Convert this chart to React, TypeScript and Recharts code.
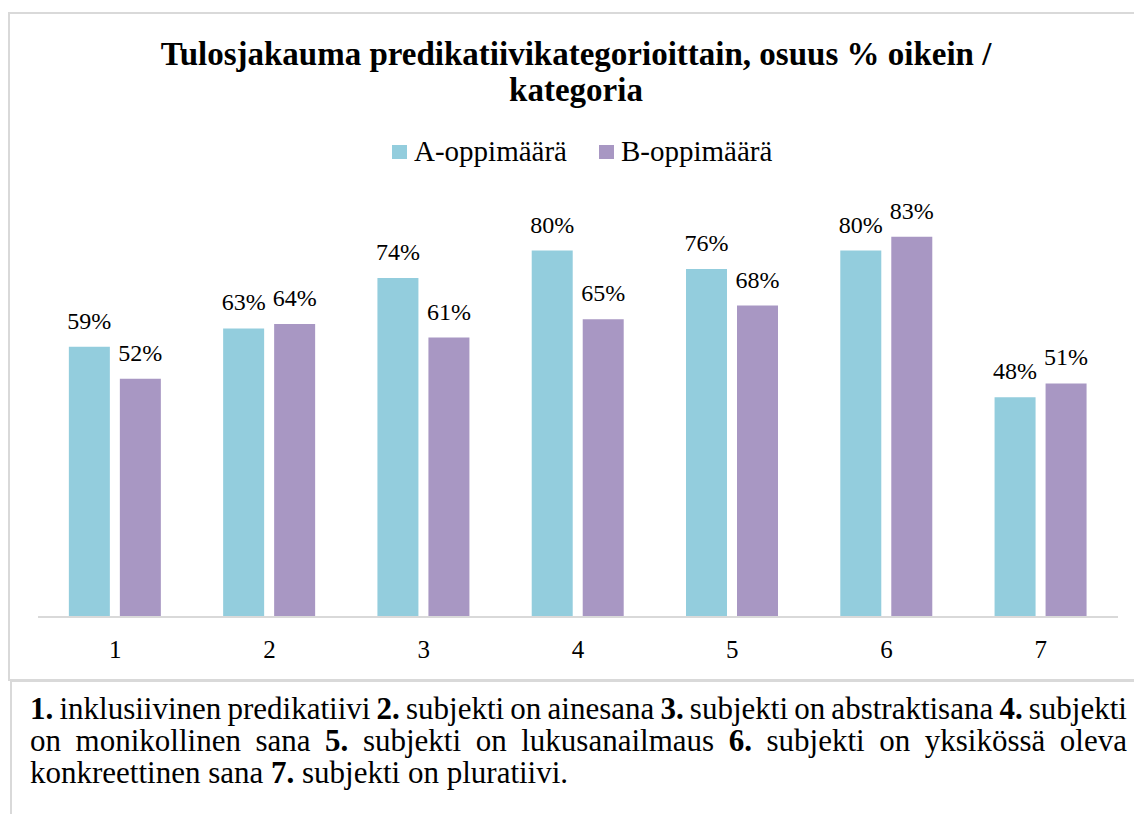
import React from 'react';
import { BarChart, Bar, XAxis, YAxis, LabelList, Legend } from 'recharts';

const categories = ['1', '2', '3', '4', '5', '6', '7'];
const seriesA = [59, 63, 74, 80, 76, 80, 48];
const seriesB = [52, 64, 61, 65, 68, 83, 51];
const seriesNames = ['A-oppimäärä', 'B-oppimäärä'];
const titleLines = ['Tulosjakauma predikatiivikategorioittain, osuus % oikein /', 'kategoria'];
const footnoteLines: [string, string][][] = [
  [['1.', ' inklusiivinen predikatiivi '], ['2.', ' subjekti on ainesana '], ['3.', ' subjekti on abstraktisana '], ['4.', ' subjekti']],
  [['', 'on monikollinen sana '], ['5.', ' subjekti on lukusanailmaus '], ['6.', ' subjekti on yksikössä oleva']],
  [['', 'konkreettinen sana '], ['7.', ' subjekti on pluratiivi.']],
];

const COLOR_A = '#93CDDD';
const COLOR_B = '#A897C3';
const FONT = '"Liberation Serif", "Times New Roman", serif';

const data = categories.map((c, i) => ({ cat: c, a: seriesA[i], b: seriesB[i] }));

const LegendContent = () => (
  <div style={{ display: 'flex', alignItems: 'flex-start', height: 30, fontFamily: FONT }}>
    {seriesNames.map((n, i) => (
      <div key={n} style={{ display: 'flex', alignItems: 'flex-start', marginRight: i === 0 ? 32 : 0 }}>
        <div style={{ width: 15, height: 14, marginTop: 9, background: i === 0 ? COLOR_A : COLOR_B, marginRight: 7 }} />
        <span style={{ fontSize: 29, lineHeight: '30px', color: '#000', whiteSpace: 'nowrap' }}>{n}</span>
      </div>
    ))}
  </div>
);

const renderLabel = (props: any) => {
  const { x, y, width, value } = props;
  return (
    <text
      x={Number(x) + Number(width) / 2}
      y={Number(y) - 18}
      textAnchor="middle"
      fill="#000"
      style={{ fontFamily: FONT, fontSize: 24 }}
    >
      {`${value}%`}
    </text>
  );
};

export default function App() {
  return (
    <div style={{ position: 'absolute', left: 0, top: 0, width: 1134, height: 814, overflow: 'hidden', background: '#fff', fontFamily: FONT }}>
      <div style={{ position: 'absolute', left: 8, top: 12, width: 1140, height: 669, border: '2px solid #d9d9d9', boxSizing: 'border-box' }} />
      <div style={{ position: 'absolute', left: 10, top: 680, width: 1140, height: 200, border: '2px solid #d9d9d9', boxSizing: 'border-box' }} />
      <div style={{ position: 'absolute', left: 8, top: 36, width: 1136, textAlign: 'center', fontWeight: 'bold', fontSize: 33, lineHeight: '36px', color: '#000' }}>
        {titleLines.map((t) => (
          <div key={t}>{t}</div>
        ))}
      </div>
      <div style={{ position: 'absolute', left: 8, top: 13, fontFamily: FONT }}>
        <BarChart
          width={1126}
          height={667}
          data={data}
          margin={{ top: 146, right: 16, bottom: 23, left: 30 }}
          barCategoryGap="20%"
          barGap={10}
        >
          <YAxis hide domain={[0, 100]} />
          <XAxis
            dataKey="cat"
            height={40}
            tickLine={false}
            tickSize={0}
            tickMargin={23}
            axisLine={{ stroke: '#d9d9d9', strokeWidth: 2 }}
            tick={{ fill: '#000', fontSize: 25, fontFamily: FONT }}
          />
          <Legend
            layout="horizontal"
            verticalAlign="middle"
            align="center"
            content={<LegendContent />}
            wrapperStyle={{ top: 123, left: 384, width: 'auto', height: 30 }}
          />
          <Bar dataKey="a" name={seriesNames[0]} fill={COLOR_A} isAnimationActive={false}>
            <LabelList dataKey="a" content={renderLabel} />
          </Bar>
          <Bar dataKey="b" name={seriesNames[1]} fill={COLOR_B} isAnimationActive={false}>
            <LabelList dataKey="b" content={renderLabel} />
          </Bar>
        </BarChart>
      </div>
      <div style={{ position: 'absolute', left: 30, top: 693, width: 1097, fontSize: 31, lineHeight: '32px', color: '#000' }}>
        {footnoteLines.map((line, li) => (
          <div
            key={li}
            style={{
              textAlign: 'justify',
              textAlignLast: li < footnoteLines.length - 1 ? 'justify' : 'left',
              whiteSpace: 'nowrap',
              wordSpacing: li === 0 ? -2 : 0,
            }}
          >
            {line.map(([b, t], i) => (
              <React.Fragment key={i}>
                {b && <b>{b}</b>}
                {t}
              </React.Fragment>
            ))}
          </div>
        ))}
      </div>
    </div>
  );
}
